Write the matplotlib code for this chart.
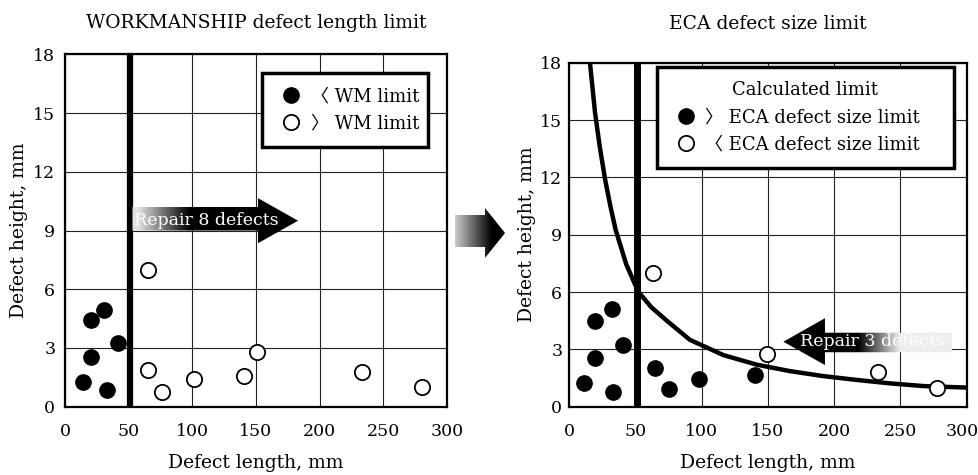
import numpy as np
import matplotlib
matplotlib.use("Agg")
import matplotlib.pyplot as plt
import matplotlib.transforms as mtransforms
from matplotlib.patches import Polygon
from matplotlib.lines import Line2D

plt.rcParams['font.family'] = ['DejaVu Serif', 'Noto Sans CJK KR', 'DejaVu Sans']

# ---------------- data ----------------
x_ticks = [0, 50, 100, 150, 200, 250, 300]
y_ticks = [0, 3, 6, 9, 12, 15, 18]

wm_limit = 51  # workmanship defect length limit, mm

# left panel: workmanship assessment
wm_in_x = [13.9, 20.2, 20.4, 30.6, 41.4, 32.7]
wm_in_y = [1.25, 4.42, 2.52, 4.93, 3.23, 0.85]
wm_out_x = [65.4, 65.4, 76, 101, 140.6, 151, 233.5, 280]
wm_out_y = [6.97, 1.9, 0.73, 1.41, 1.58, 2.77, 1.79, 1.02]

# right panel: ECA assessment
eca_in_x = [11.3, 19.4, 19.4, 32, 40.8, 33.2, 64.7, 75.5, 98.2, 140.3]
eca_in_y = [1.22, 4.48, 2.53, 5.11, 3.23, 0.79, 2.01, 0.91, 1.45, 1.66]
eca_out_x = [63, 149.1, 233.4, 277.5]
eca_out_y = [6.98, 2.74, 1.83, 0.96]

# calculated ECA limit curve
curve_x = [15.6, 19.4, 23, 27, 31, 35, 43, 52, 62, 73.6, 91, 116.3, 141.5, 166.7,
           191.8, 217, 242.2, 267.4, 300]
curve_y = [18.0, 15.4, 13.6, 11.9, 10.5, 9.25, 7.45, 6.02, 5.2, 4.5, 3.5, 2.7, 2.2,
           1.86, 1.6, 1.4, 1.22, 1.08, 1.0]

left_title = 'WORKMANSHIP defect length limit'
right_title = 'ECA defect size limit'
x_label = 'Defect length, mm'
y_label = 'Defect height, mm'
left_labels = ['〈 WM limit', '〉 WM limit']
right_labels = ['〉 ECA defect size limit', '〈 ECA defect size limit']
right_legend_title = 'Calculated limit'
left_arrow_text = 'Repair 8 defects'
right_arrow_text = 'Repair 3 defects'

# ---------------- figure ----------------
W, H = 979, 475
fig = plt.figure(figsize=(W / 100, H / 100), dpi=100)
axL = fig.add_axes([65 / W, (H - 406.7) / H, 382 / W, 352.4 / H])
axR = fig.add_axes([569.3 / W, (H - 406.7) / H, 397.4 / W, 344 / H])


def style(ax, title, title_pad, ypad, ylpad):
    ax.set_xlim(0, 300)
    ax.set_ylim(0, 18)
    ax.set_xticks(x_ticks)
    ax.set_yticks(y_ticks)
    ax.grid(True, color='#222222', lw=0.8)
    ax.set_axisbelow(True)
    ax.tick_params(axis='x', length=0, labelsize=12.5, pad=12)
    ax.tick_params(axis='y', length=0, labelsize=12.5, pad=ypad)
    for s in ax.spines.values():
        s.set_linewidth(1.6)
        s.set_color('black')
    ax.set_xlabel(x_label, fontsize=13.5, labelpad=10)
    ax.set_ylabel(y_label, fontsize=13.5, labelpad=ylpad)
    ax.set_title(title, fontsize=13.5, pad=title_pad)


style(axL, left_title, 19, 7, 4)
style(axR, right_title, 24, 5, 3)

# keep the last x tick label of the right panel inside the figure
last_lbl = axR.get_xticklabels()[-1]
last_lbl.set_transform(last_lbl.get_transform() +
                       mtransforms.ScaledTranslation(-5 / 100, 0, fig.dpi_scale_trans))


def gradient_arrow(ax, xs, ys, x_light, x_dark, light, z=3):
    poly = Polygon(np.column_stack([xs, ys]), closed=True, facecolor='none',
                   edgecolor='none', transform=ax.transData)
    ax.add_patch(poly)
    xmin, xmax = min(xs), max(xs)
    ymin, ymax = min(ys), max(ys)
    gx = np.linspace(xmin, xmax, 400)
    if x_light < x_dark:
        vals = np.interp(gx, [x_light, x_dark], [light, 0.0])
    else:
        vals = np.interp(gx, [x_dark, x_light], [0.0, light])
    img = np.tile(vals, (2, 1))
    im = ax.imshow(img, extent=[xmin, xmax, ymin, ymax], cmap='gray', vmin=0, vmax=1,
                   aspect='auto', interpolation='bilinear', zorder=z, origin='lower')
    im.set_clip_path(poly)


# ---- left panel ----
axL.axvline(wm_limit, color='black', lw=4.5, zorder=2.5)
la_x = [53, 151.6, 151.6, 183, 151.6, 151.6, 53]
la_y = [10.2, 10.2, 10.65, 9.5, 8.35, 9.0, 9.0]
gradient_arrow(axL, la_x, la_y, 58, 98, 0.88)
axL.text(111, 9.5, left_arrow_text, color='white', fontsize=12.5, ha='center',
         va='center', zorder=4)
axL.plot(wm_in_x, wm_in_y, ls='none', marker='o', ms=11, mfc='black', mec='black', zorder=5)
axL.plot(wm_out_x, wm_out_y, ls='none', marker='o', ms=11, mfc='white', mec='black',
         mew=1.3, zorder=5)
axL.set_xlim(0, 300)
axL.set_ylim(0, 18)

hL = [Line2D([], [], ls='none', marker='o', ms=11, mfc='black', mec='black'),
      Line2D([], [], ls='none', marker='o', ms=11, mfc='white', mec='black', mew=1.3)]
legL = axL.legend(hL, left_labels, loc='upper left',
                  bbox_to_anchor=(0.516, 0.737, 0.434, 0.21), mode='expand',
                  fontsize=13, frameon=True, fancybox=False, framealpha=1,
                  edgecolor='black', handlelength=1.6, handletextpad=0.3,
                  labelspacing=0.5, borderpad=0.8, borderaxespad=0)
legL.get_frame().set_linewidth(2.5)
legL.set_zorder(6)

# ---- right panel ----
axR.axvline(wm_limit, color='black', lw=5, zorder=2.5)
axR.plot(curve_x, curve_y, color='black', lw=3.2, solid_joinstyle='round',
         solid_capstyle='butt', zorder=3)
ra_x = [161.6, 193, 193, 288.8, 288.8, 193, 193]
ra_y = [3.4, 4.63, 3.87, 3.87, 2.85, 2.85, 2.18]
gradient_arrow(axR, ra_x, ra_y, 250, 218, 0.93)
axR.text(229, 3.4, right_arrow_text, color='white', fontsize=12.5, ha='center',
         va='center', zorder=4)
axR.plot(eca_in_x, eca_in_y, ls='none', marker='o', ms=11, mfc='black', mec='black', zorder=5)
axR.plot(eca_out_x, eca_out_y, ls='none', marker='o', ms=11, mfc='white', mec='black',
         mew=1.3, zorder=5)
axR.set_xlim(0, 300)
axR.set_ylim(0, 18)

hR = [Line2D([], [], ls='none', marker='o', ms=11, mfc='black', mec='black'),
      Line2D([], [], ls='none', marker='o', ms=11, mfc='white', mec='black', mew=1.3)]
legR = axR.legend(hR, right_labels, title=right_legend_title, loc='upper left',
                  bbox_to_anchor=(0.22, 0.703, 0.748, 0.285), mode='expand',
                  fontsize=13, title_fontsize=13,
                  frameon=True, fancybox=False, framealpha=1, edgecolor='black',
                  handlelength=1.6, handletextpad=0.3, labelspacing=0.5,
                  borderpad=0.8, borderaxespad=0)
legR.get_frame().set_linewidth(2.5)
legR.set_zorder(6)

# ---- middle arrow (figure overlay in pixel units) ----
ov = fig.add_axes([0, 0, 1, 1])
ov.set_xlim(0, W)
ov.set_ylim(H, 0)
ov.axis('off')
ma_x = [455, 485, 485, 505, 485, 485, 455]
ma_y = [215, 215, 208, 233, 258, 247, 247]
gradient_arrow(ov, ma_x, ma_y, 455, 492, 0.8)
ov.set_xlim(0, W)
ov.set_ylim(H, 0)

fig.savefig('out.png', dpi=100)
